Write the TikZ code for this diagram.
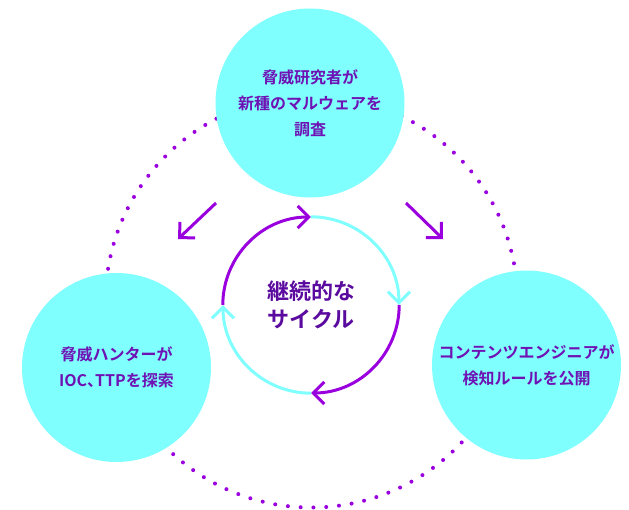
\documentclass[tikz,border=0pt]{standalone}
\usepackage{fontspec}
\setmainfont{Noto Sans CJK JP}[BoldFont={Noto Sans CJK JP Bold}]
\usetikzlibrary{arrows.meta}
\definecolor{cyanfill}{HTML}{80FFFF}
\definecolor{vio}{HTML}{9A00DE}
\definecolor{textvio}{HTML}{6E12B4}
\definecolor{darkvio}{HTML}{5A0A9E}
\newcommand{\halfcomma}{{\addfontfeature{RawFeature=+halt}、}}
\begin{document}
\begin{tikzpicture}[x=1pt,y=1pt,
		bubble/.style={circle,fill=cyanfill,minimum size=189pt,inner sep=0pt,align=center,text=textvio,font=\fontsize{16}{26}\selectfont\bfseries},
		dots/.style={vio,line width=4pt,line cap=round,dash pattern=on 0pt off 12.8pt},
		tip/.style={-{Straight Barb[length=11pt,width=22pt]}},
		purplearc/.style={tip,vio,line width=3pt},
		cyanarc/.style={tip,cyanfill,line width=3pt}]
	\useasboundingbox (0,0) rectangle (629,509);

	\draw[dots] (311.5,207.5) circle[radius=206];

	\node[bubble] (research) at (310,406) {脅威研究者が\\新種のマルウェアを\\調査};
	\node[bubble] (hunter) at (116.5,141.5) {脅威ハンターが\\IOC\halfcomma TTPを探索};
	\node[bubble] (engineer) at (526.5,144) {コンテンツエンジニアが\\検知ルールを公開};

	\node[circle,minimum size=176pt,inner sep=0pt,align=center,text=darkvio,font=\fontsize{22}{28}\selectfont\bfseries] (loop) at (311,204) {継続的な\\サイクル};

	\draw[purplearc] (loop.west) arc[start angle=180,end angle=90,radius=88];
	\draw[cyanarc] (loop.north) arc[start angle=90,end angle=0,radius=88];
	\draw[purplearc] (loop.east) arc[start angle=0,end angle=-90,radius=88];
	\draw[cyanarc] (loop.south) arc[start angle=270,end angle=180,radius=88];

	\coordinate (l1) at (216,306);
	\coordinate (l2) at (178,270);
	\coordinate (r1) at (406,306);
	\coordinate (r2) at (443,270);
	\draw[purplearc] (l1) -- (l2);
	\draw[purplearc] (r1) -- (r2);
\end{tikzpicture}
\end{document}
